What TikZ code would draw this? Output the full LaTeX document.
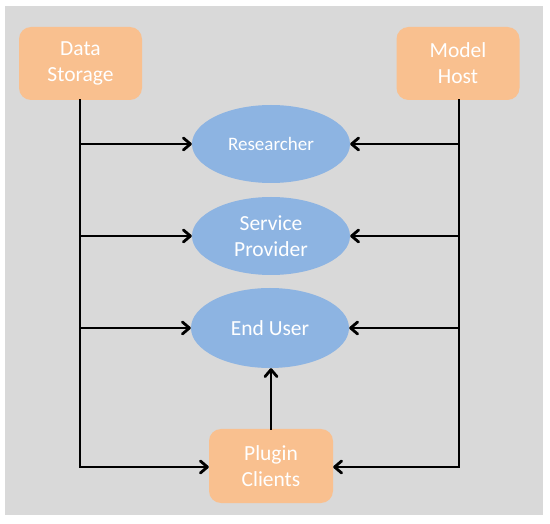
\documentclass[tikz,border=0pt]{standalone}
\usepackage{fontspec}
\setmainfont{Carlito}
\usetikzlibrary{shapes.geometric,arrows.meta}
\definecolor{bggray}{HTML}{D9D9D9}
\definecolor{boxorange}{HTML}{F9C08F}
\definecolor{ellblue}{HTML}{8DB4E2}
\begin{document}
\begin{tikzpicture}[x=1pt,y=-1pt,
  orangebox/.style={rectangle,rounded corners=12pt,fill=boxorange,text=white,
    minimum width=123pt,minimum height=73pt,inner sep=0pt,align=center,
    font=\fontsize{21.5}{26}\selectfont},
  blueell/.style={ellipse,fill=ellblue,text=white,minimum width=158pt,
    minimum height=78pt,inner sep=0pt,align=center,
    font=\fontsize{21.5}{26}\selectfont},
  conn/.style={line width=2.8pt,line cap=rect,line join=miter,black},
  arr/.style={conn,-{Straight Barb[length=7pt,width=12pt,line cap=round,line join=round]}}
]
\useasboundingbox (0,0) rectangle (550,524);
\fill[white] (0,0) rectangle (550,524);
\fill[bggray] (5,6) rectangle (543,515);

\node[orangebox] (ds) at (80.5,63.5) {Data\\Storage};
\node[orangebox] (mh) at (458,63.5) {Model\\Host};
\node[blueell,font=\fontsize{19}{22}\selectfont] (res) at (271,144) {Researcher};
\node[blueell] (sp) at (271,236) {Service\\Provider};
\node[blueell,minimum height=80pt] (eu) at (270,328) {End User};
\node[orangebox,minimum width=124pt,minimum height=74pt] (pc) at (271,466) {Plugin\\Clients};

\coordinate (l1) at (80,144);
\coordinate (l2) at (80,236);
\coordinate (l3) at (80,328);
\coordinate (l4) at (80,467);
\coordinate (r1) at (459,144);
\coordinate (r2) at (459,236);
\coordinate (r3) at (459,328);
\coordinate (r4) at (459,467);

\draw[conn] (ds.south -| l1) -- (l4);
\draw[conn] (mh.south -| r1) -- (r4);
\draw[arr] (l1) -- (res.west);
\draw[arr] (l2) -- (sp.west);
\draw[arr] (l3) -- (eu.west);
\draw[arr] (l4) -- (pc.west |- l4);
\draw[arr] (r1) -- (res.east);
\draw[arr] (r2) -- (sp.east);
\draw[arr] (r3) -- (eu.east);
\draw[arr] (r4) -- (pc.east |- r4);
\draw[arr] (pc.north) -- (pc.north |- eu.south);
\end{tikzpicture}
\end{document}
